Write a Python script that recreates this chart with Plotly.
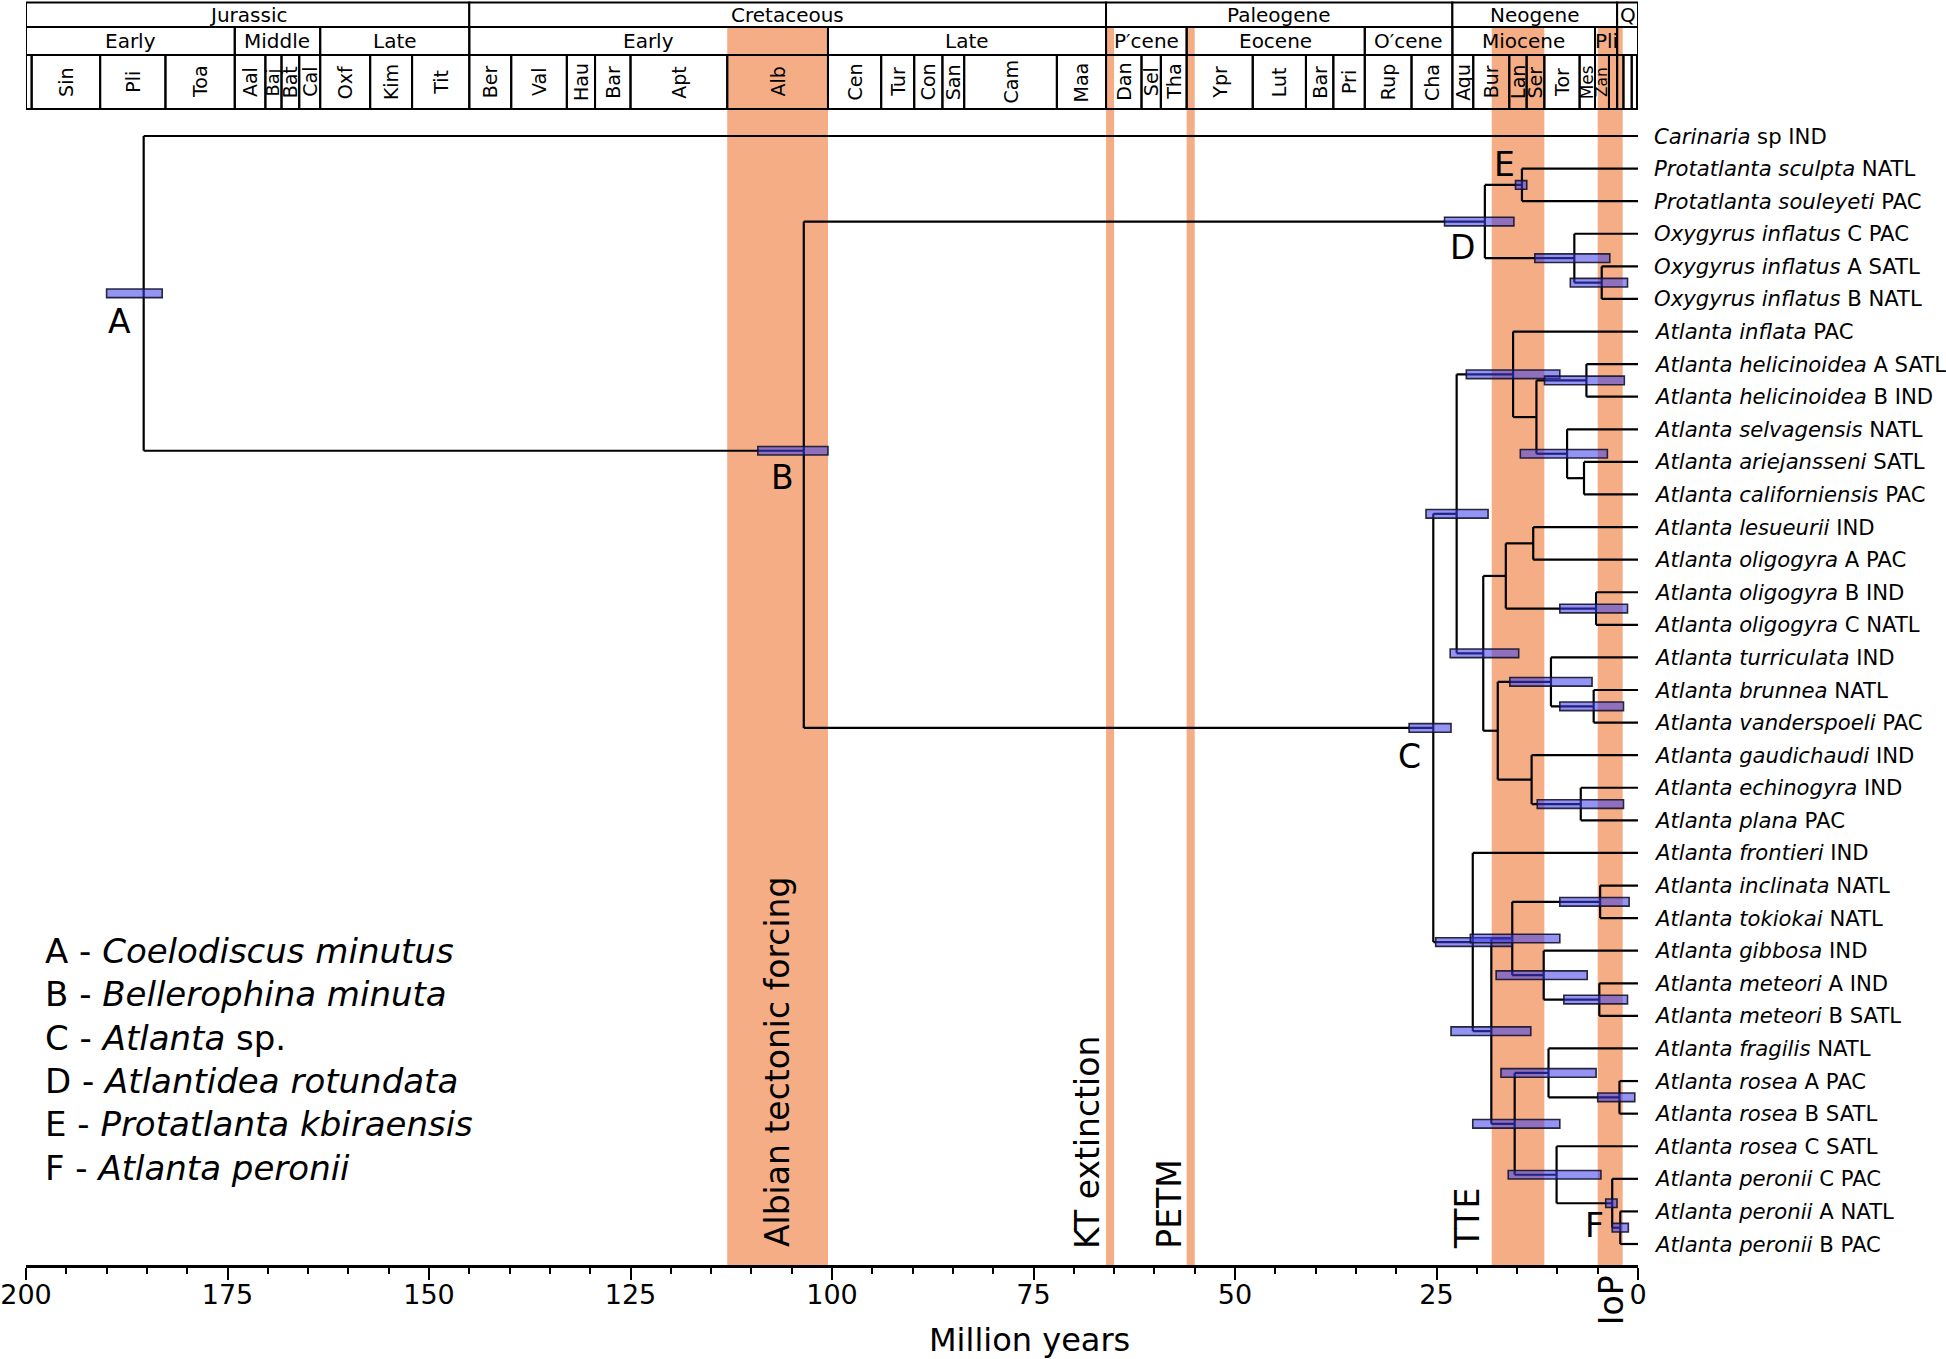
import plotly.graph_objects as go

# ---------------- data ----------------
tip_italic = ["Carinaria", "Protatlanta sculpta", "Protatlanta souleyeti",
              "Oxygyrus inflatus", "Oxygyrus inflatus", "Oxygyrus inflatus",
              "Atlanta inflata", "Atlanta helicinoidea", "Atlanta helicinoidea",
              "Atlanta selvagensis", "Atlanta ariejansseni", "Atlanta californiensis",
              "Atlanta lesueurii", "Atlanta oligogyra", "Atlanta oligogyra",
              "Atlanta oligogyra", "Atlanta turriculata", "Atlanta brunnea",
              "Atlanta vanderspoeli", "Atlanta gaudichaudi", "Atlanta echinogyra",
              "Atlanta plana", "Atlanta frontieri", "Atlanta inclinata",
              "Atlanta tokiokai", "Atlanta gibbosa", "Atlanta meteori",
              "Atlanta meteori", "Atlanta fragilis", "Atlanta rosea",
              "Atlanta rosea", "Atlanta rosea", "Atlanta peronii",
              "Atlanta peronii", "Atlanta peronii"]
tip_suffix = ["sp IND", "NATL", "PAC", "C PAC", "A SATL", "B NATL", "PAC",
              "A SATL", "B IND", "NATL", "SATL", "PAC", "IND", "A PAC", "B IND",
              "C NATL", "IND", "NATL", "PAC", "IND", "IND", "PAC", "IND", "NATL",
              "NATL", "IND", "A IND", "B SATL", "NATL", "A PAC", "B SATL",
              "C SATL", "C PAC", "A NATL", "B PAC"]

# internal nodes: tips are referenced by their 1-based index
node_names = ["A", "B", "D", "E", "O1", "O2", "C", "Cu", "N1", "N2", "Hel", "N3",
              "N4", "Cv", "Cw", "L", "OBC", "Cx", "T", "BV", "G", "EP", "Cl", "Cm",
              "Cn", "IT", "Cg", "M", "Cr", "Fr", "RAB", "RC", "F", "PAB"]
node_ages = [185.4, 103.5, 19.0, 14.4, 7.9, 4.5, 25.4, 22.5, 15.5, 12.6, 6.4, 8.8,
             6.7, 19.2, 16.4, 13.0, 5.2, 17.4, 10.8, 5.5, 13.2, 7.1, 20.5, 18.2,
             15.6, 4.7, 11.7, 4.8, 15.3, 11.1, 2.3, 10.1, 3.2, 2.2]
node_children = [[1, "B"], ["D", "C"], ["E", "O1"], [2, 3], [4, "O2"], [5, 6],
                 ["Cu", "Cl"], ["N1", "Cv"], [7, "N2"], ["Hel", "N3"], [8, 9],
                 [10, "N4"], [11, 12], ["Cw", "Cx"], ["L", "OBC"], [13, 14],
                 [15, 16], ["T", "G"], [17, "BV"], [18, 19], [20, "EP"], [21, 22],
                 [23, "Cm"], ["Cn", "Cr"], ["IT", "Cg"], [24, 25], [26, "M"],
                 [27, 28], ["Fr", "RC"], [29, "RAB"], [30, 31], [32, "F"],
                 [33, "PAB"], [34, 35]]
hpd_old = [190.0, 109.2, 24.0, 15.2, 12.8, 8.4, 28.4, 26.3, 21.3, None, 11.6, 14.6,
           None, 23.3, None, None, 9.7, None, 15.9, 9.7, None, 12.5, 25.1, 23.2,
           20.8, 9.7, 17.6, 9.2, 20.5, 17.0, 5.0, 16.1, 4.0, 3.2]
hpd_young = [183.1, 100.5, 15.4, 13.8, 3.5, 1.3, 23.2, 18.6, 9.7, None, 1.7, 3.8,
             None, 14.8, None, None, 1.3, None, 5.7, 1.8, None, 1.8, 15.6, 13.3,
             9.7, 1.1, 6.3, 1.3, 9.7, 5.2, 0.4, 4.6, 2.6, 1.2]

labelled_nodes = ["A", "B", "C", "D", "E", "F"]
legend_italic = ["Coelodiscus minutus", "Bellerophina minuta", "Atlanta",
                 "Atlantidea rotundata", "Protatlanta kbiraensis", "Atlanta peronii"]
legend_suffix = ["", "", " sp.", "", "", ""]

event_names = ["Albian tectonic forcing", "KT extinction", "PETM", "TTE", "IoP"]
event_start = [113.0, 66.0, 56.0, 18.15, 5.0]
event_end = [100.5, 65.0, 55.0, 11.62, 1.9]

period_names = ["Jurassic", "Cretaceous", "Paleogene", "Neogene", "Q"]
period_start = [201.3, 145.0, 66.0, 23.03, 2.588]
period_end = [145.0, 66.0, 23.03, 2.588, 0.0]

epoch_names = ["Early", "Middle", "Late", "Early", "Late", "P\u2032cene", "Eocene",
               "O\u2032cene", "Miocene", "Pli", ""]
epoch_start = [201.3, 174.1, 163.5, 145.0, 100.5, 66.0, 56.0, 33.9, 23.03, 5.333, 2.588]
epoch_end = [174.1, 163.5, 145.0, 100.5, 66.0, 56.0, 33.9, 23.03, 5.333, 2.588, 0.0]

age_names = ["", "Sin", "Pli", "Toa", "Aal", "Baj", "Bat", "Cal", "Oxf", "Kim", "Tit",
             "Ber", "Val", "Hau", "Bar", "Apt", "Alb", "Cen", "Tur", "Con", "San",
             "Cam", "Maa", "Dan", "Sel", "Tha", "Ypr", "Lut", "Bar", "Pri", "Rup",
             "Cha", "Aqu", "Bur", "Lan", "Ser", "Tor", "Mes", "Zan", "", "", "", "", ""]
age_start = [201.3, 199.3, 190.8, 182.7, 174.1, 170.3, 168.3, 166.1, 163.5, 157.3,
             152.1, 145.0, 139.8, 132.9, 129.4, 125.0, 113.0, 100.5, 93.9, 89.8,
             86.3, 83.6, 72.1, 66.0, 61.6, 59.2, 56.0, 47.8, 41.2, 37.8, 33.9, 28.1,
             23.03, 20.44, 15.97, 13.82, 11.62, 7.246, 5.333, 3.6, 2.588, 1.806,
             0.781, 0.126]
age_end = age_start[1:] + [0.0]

axis_ticks = [0, 25, 50, 75, 100, 125, 150, 175, 200]

# ---------------- layout constants ----------------
W, H = 1946, 1359
XL, XR = 26, 1638          # pixel of 200 Ma and 0 Ma
AXP = 1265                 # pixel row of the time axis
TIP1_P, TIPN_P = 136, 1244
NT = len(tip_italic)
tip_px = (TIPN_P - TIP1_P) / (NT - 1)
Y_TOP = 1 - TIP1_P / tip_px
Y_BOT = NT + (AXP - TIPN_P) / tip_px
FONT = "DejaVu Sans"
ORANGE = "#F5AD85"
BAR_FILL = "rgba(60,60,235,0.55)"
# manual vertical nudge of a node (pixels, negative = up), as in the original drawing
node_nudge_px = {"B": -24}


def pp(p):
    """pixel row -> paper y"""
    return 1 - p / AXP


# ---------------- tree layout ----------------
idx = {n: i for i, n in enumerate(node_names)}
ypos = {}


def get_y(c):
    if isinstance(c, int):
        return float(c)
    if c not in ypos:
        kids = node_children[idx[c]]
        ypos[c] = ((get_y(kids[0]) + get_y(kids[-1])) / 2
                   + node_nudge_px.get(c, 0) / tip_px)
    return ypos[c]


def get_age(c):
    return 0.0 if isinstance(c, int) else node_ages[idx[c]]


lx, ly = [], []
for n in node_names:
    na = node_ages[idx[n]]
    kids = node_children[idx[n]]
    kys = [get_y(k) for k in kids]
    lx += [na, na, None]
    ly += [min(kys), max(kys), None]
    for k, ky in zip(kids, kys):
        lx += [na, get_age(k), None]
        ly += [ky, ky, None]

fig = go.Figure()
fig.add_trace(go.Scatter(x=lx, y=ly, mode="lines",
                         line=dict(color="black", width=2.2),
                         hoverinfo="skip", showlegend=False))

shapes = []
annotations = []

# event bands
for nm, s, e in zip(event_names, event_start, event_end):
    shapes.append(dict(type="rect", xref="x", yref="paper", x0=s, x1=e,
                       y0=0, y1=pp(27), fillcolor=ORANGE, line=dict(width=0),
                       layer="below"))

# HPD bars
BH = 4.3 / tip_px
for n, o, yg in zip(node_names, hpd_old, hpd_young):
    if o is None:
        continue
    ny = get_y(n)
    shapes.append(dict(type="rect", xref="x", yref="y", x0=o, x1=yg,
                       y0=ny - BH, y1=ny + BH, fillcolor=BAR_FILL,
                       line=dict(color="rgba(20,20,40,0.9)", width=1.6),
                       layer="above"))

# geological time scale header
rows = [(period_names, period_start, period_end, 2.5, 27, 20, 0),
        (epoch_names, epoch_start, epoch_end, 27, 55, 20, 0),
        (age_names, age_start, age_end, 55, 109, 19, -90)]
for names, st, en, ptop, pbot, fs, ang in rows:
    for nm, s, e in zip(names, st, en):
        s2 = min(s, 200.0)
        e2 = max(e, 0.0)
        if s2 <= e2:
            continue
        shapes.append(dict(type="rect", xref="x", yref="paper", x0=s2, x1=e2,
                           y0=pp(pbot), y1=pp(ptop),
                           fillcolor="white" if ptop < 5 else "rgba(0,0,0,0)",
                           line=dict(color="black", width=2), layer="above"))
        if nm:
            wpx = (s2 - e2) * (XR - XL) / 200.0
            size = fs if ang == 0 else min(fs, max(14, 1.1 * wpx))
            annotations.append(dict(x=(s2 + e2) / 2, y=pp((ptop + pbot) / 2),
                                    xref="x", yref="paper", text=nm,
                                    showarrow=False, textangle=ang,
                                    font=dict(family=FONT, size=size, color="black"),
                                    xanchor="center", yanchor="middle"))

# tip labels
for i, (it, sf) in enumerate(zip(tip_italic, tip_suffix)):
    annotations.append(dict(x=0, y=i + 1, xref="x", yref="y",
                            text=f"<i>{it}</i> {sf}", showarrow=False,
                            xanchor="left", yanchor="middle", xshift=14,
                            font=dict(family=FONT, size=21.2, color="black")))

# node letter labels (pixel offsets right/down from the node)
label_offsets = {"A": (-24, 28), "B": (-21, 27), "C": (-24, 29),
                 "D": (-22, 26), "E": (-17, -20), "F": (-18, 22)}
for n in labelled_nodes:
    dx, dy = label_offsets[n]
    annotations.append(dict(x=node_ages[idx[n]], y=get_y(n), xref="x", yref="y",
                            text=n, showarrow=False, xanchor="center",
                            yanchor="middle", xshift=dx, yshift=-dy,
                            font=dict(family=FONT, size=33, color="black")))

# legend text
for i, (n, it, sf) in enumerate(zip(labelled_nodes, legend_italic, legend_suffix)):
    annotations.append(dict(x=(43 - XL) / (XR - XL), y=pp(951 + 43.3 * i),
                            xref="paper", yref="paper",
                            text=f"{n} - <i>{it}</i>{sf}", showarrow=False,
                            xanchor="left", yanchor="middle",
                            font=dict(family=FONT, size=34, color="black")))

# event labels (rotated)
label_xshift = {"KT extinction": 3, "PETM": 4, "TTE": -3}
for nm, s, e in zip(event_names, event_start, event_end):
    if nm == "Albian tectonic forcing":
        a = dict(x=(s + e) / 2, xanchor="center", y=pp(1249), xshift=0)
    elif nm == "IoP":
        a = dict(x=(s + e) / 2, xanchor="center", y=pp(1327), xshift=1)
    else:
        a = dict(x=s, xanchor="right", y=pp(1251), xshift=label_xshift[nm])
    annotations.append(dict(xref="x", yref="paper", text=nm, showarrow=False,
                            textangle=-90, yanchor="bottom",
                            font=dict(family=FONT, size=33, color="black"), **a))

# axis title
annotations.append(dict(x=(1029 - XL) / (XR - XL), y=pp(1340), xref="paper",
                        yref="paper", text="Million years", showarrow=False,
                        xanchor="center", yanchor="middle",
                        font=dict(family=FONT, size=32, color="black")))

fig.update_layout(
    width=W, height=H,
    margin=dict(l=XL, r=W - XR, t=0, b=H - AXP, pad=0, autoexpand=False),
    plot_bgcolor="white", paper_bgcolor="white", showlegend=False,
    shapes=shapes, annotations=annotations,
    xaxis=dict(range=[200, 0], tickvals=axis_ticks, automargin=False,
               ticktext=[str(t) for t in axis_ticks],
               ticks="outside", ticklen=12, tickwidth=2, tickcolor="black",
               ticklabelstandoff=-8,
               minor=dict(dtick=5, ticks="outside", ticklen=6, tickwidth=1.5,
                          tickcolor="black"),
               showline=True, linewidth=3, linecolor="black",
               showgrid=False, zeroline=False,
               tickfont=dict(family=FONT, size=27, color="black")),
    yaxis=dict(range=[Y_BOT, Y_TOP], visible=False, showgrid=False,
               zeroline=False, automargin=False),
)

fig.write_html("out.html",
               config={"displayModeBar": False},
               post_script="document.body.style.margin='0px';"
                           "document.body.style.overflow='hidden';")
